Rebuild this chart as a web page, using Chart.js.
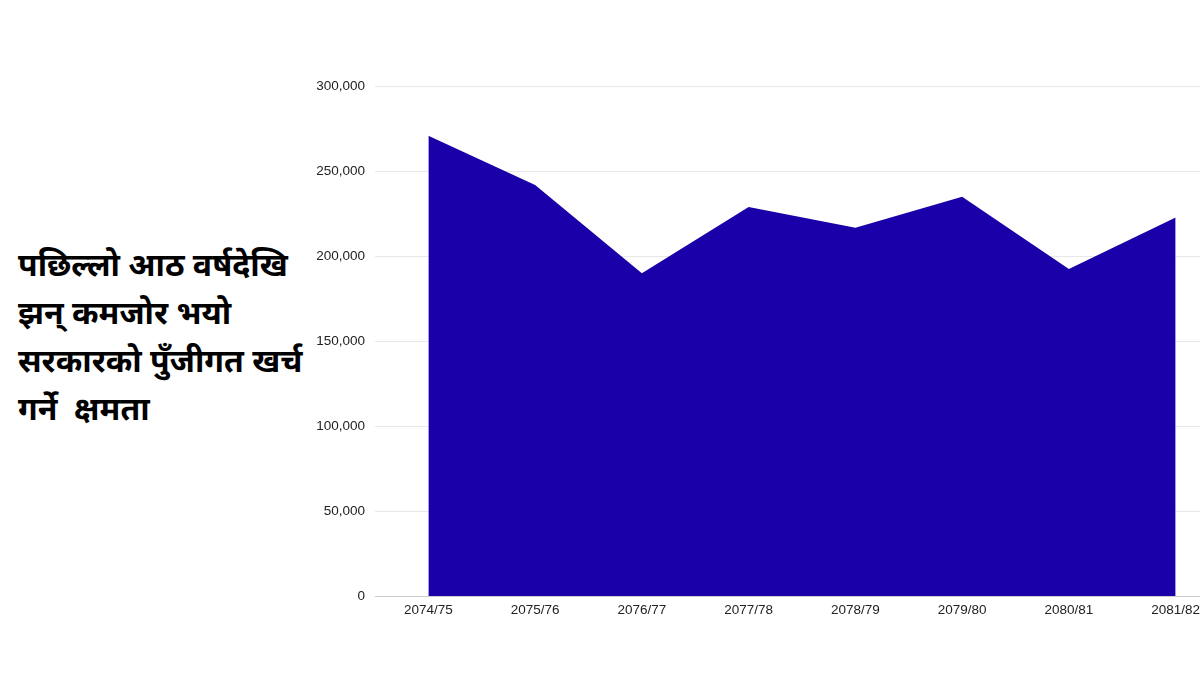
<!DOCTYPE html>
<html>
<head>
<meta charset="utf-8">
<script src="https://cdn.jsdelivr.net/npm/chart.js@4"></script>
<style>
    html, body { margin: 0; padding: 0; background: #fff; overflow: hidden; }
    body { width: 1200px; height: 675px; position: relative; }
    #title {
        position: absolute; left: 18px; top: 244px;
        font-family: "Noto Sans Devanagari", "Noto Sans", "Lato", sans-serif;
        font-weight: bold; font-size: 32px; line-height: 48px; color: #000;
        white-space: nowrap;
    }
    #wrap { position: absolute; left: 300px; top: 0; width: 940px; height: 675px; }
</style>
</head>
<body>
<div id="title">पछिल्लो आठ वर्षदेखि<br>झन् कमजोर भयो<br>सरकारको पुँजीगत खर्च<br>गर्ने &nbsp;क्षमता</div>
<div id="wrap"><canvas id="areaChart"></canvas></div>
<script>
// fiscal years (Nepali calendar)
const years = ['2074/75', '2075/76', '2076/77', '2077/78', '2078/79', '2079/80', '2080/81', '2081/82'];
// capital expenditure
const capitalSpend = [270700, 241700, 189800, 228800, 216600, 234800, 192300, 222700];
const yTicks = [0, 50000, 100000, 150000, 200000, 250000, 300000];

const tickFont = { family: 'Liberation Sans, Arial', size: 13.5 };

const ctx = document.getElementById('areaChart');
new Chart(ctx, {
    type: 'line',
    data: {
        labels: years,
        datasets: [{
            data: capitalSpend,
            fill: 'origin',
            backgroundColor: '#1a00a8',
            borderColor: '#1a00a8',
            borderWidth: 0,
            pointRadius: 0,
            tension: 0
        }]
    },
    options: {
        responsive: true,
        maintainAspectRatio: false,
        animation: false,
        layout: { padding: { top: 86, right: 11, bottom: 39, left: 0 } },
        plugins: { legend: { display: false }, tooltip: { enabled: false } },
        scales: {
            x: {
                offset: true,
                grid: { display: false, drawTicks: false },
                border: { display: true, color: '#cccccc', width: 1 },
                ticks: { color: '#222', font: tickFont, padding: 6, maxRotation: 0 },
                afterFit: (s) => { s.height = 40; }
            },
            y: {
                min: 0,
                max: 300000,
                grid: { color: '#e8e8e8', drawTicks: false },
                border: { display: false },
                afterBuildTicks: (s) => { s.ticks = yTicks.map(v => ({ value: v })); },
                ticks: {
                    color: '#222',
                    padding: 10,
                    font: tickFont,
                    callback: (v) => v.toLocaleString('en-US')
                },
                afterFit: (s) => { s.width = 75; }
            }
        }
    }
});
</script>
</body>
</html>
